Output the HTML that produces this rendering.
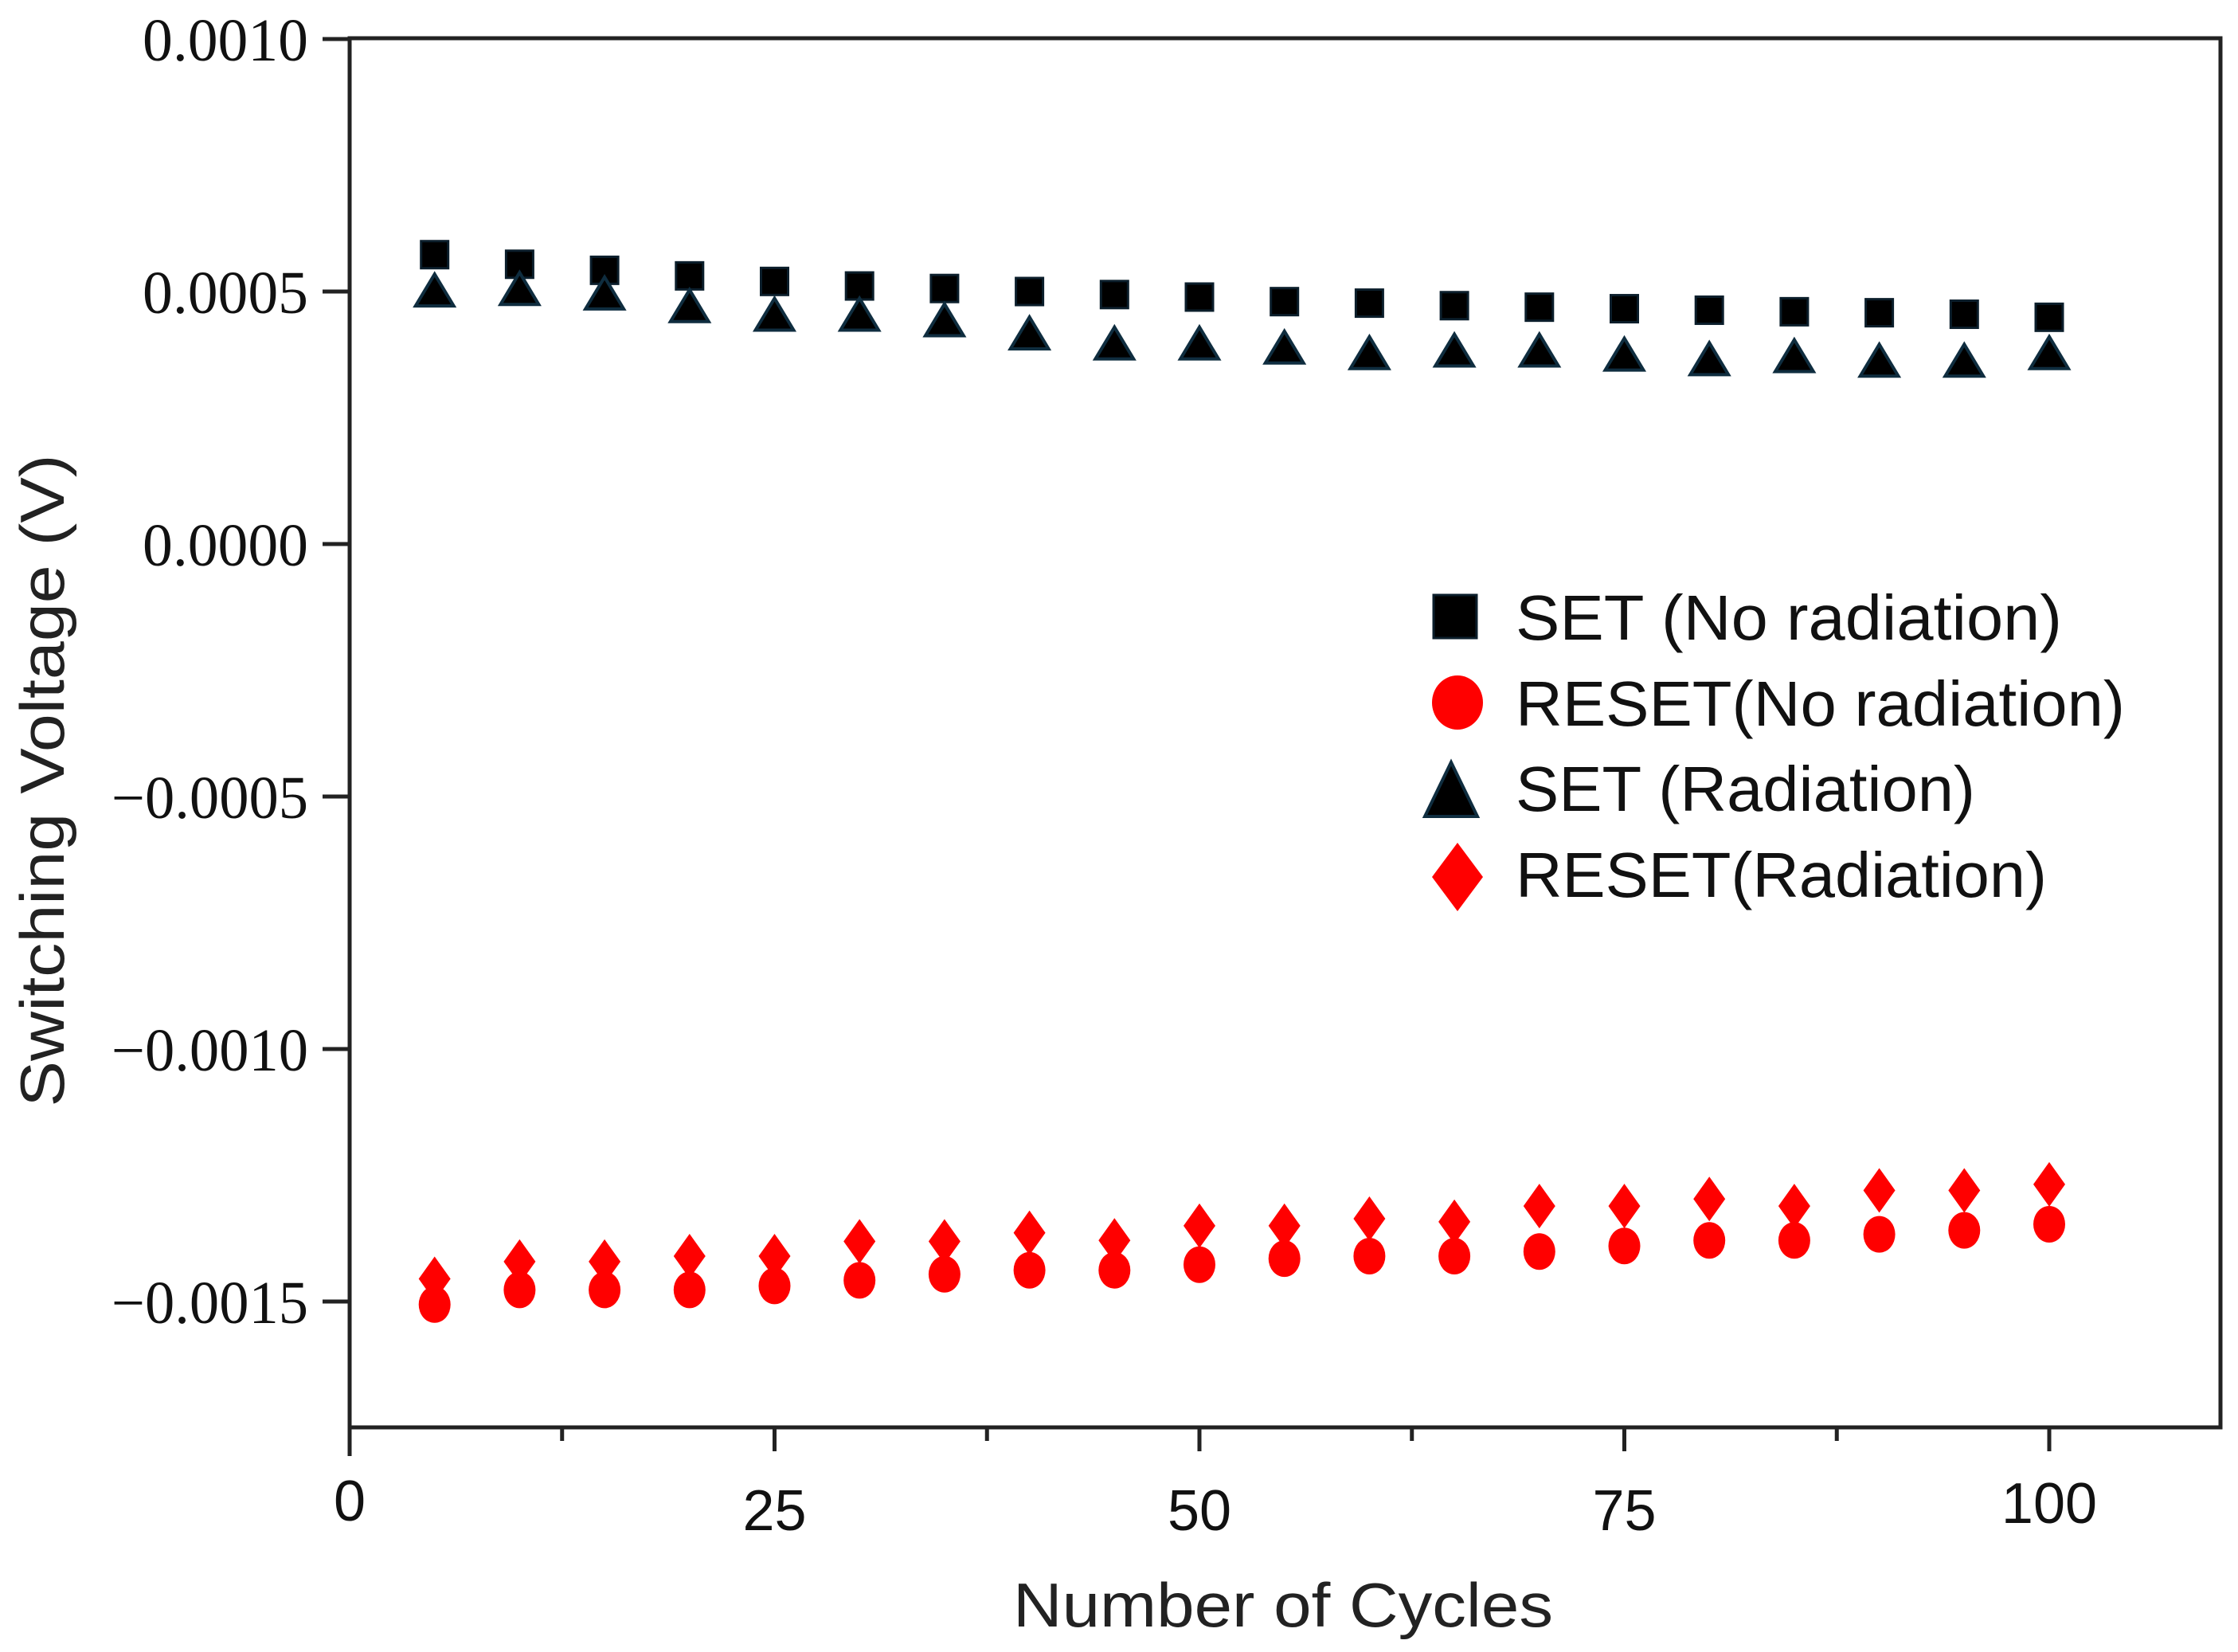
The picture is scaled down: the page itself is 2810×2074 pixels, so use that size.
<!DOCTYPE html>
<html><head><meta charset="utf-8"><style>
html,body{margin:0;padding:0;background:#fff;}
svg{display:block;}
</style></head><body>
<svg id="chart" width="2810" height="2074" viewBox="0 0 2810 2074" xmlns="http://www.w3.org/2000/svg">
<rect x="0" y="0" width="2810" height="2074" fill="#fff"/>
<g id="axes"></g>
<g id="marks"></g>
<g id="legend"></g>
</svg>
<script>
const cycles = [5,10,15,20,25,30,35,40,45,50,55,60,65,70,75,80,85,90,95,100];
const setNoRad = [0.000573,0.000554,0.000542,0.000531,0.000520,0.000511,0.000506,0.000500,0.000494,0.000489,0.000480,0.000477,0.000472,0.000469,0.000466,0.000463,0.000460,0.000458,0.000455,0.000449];
const setRad = [0.000503,0.000506,0.000497,0.000472,0.000455,0.000455,0.000444,0.000418,0.000398,0.000398,0.000390,0.000379,0.000384,0.000384,0.000376,0.000367,0.000373,0.000364,0.000364,0.000379];
const resetNoRad = [-0.001506,-0.001477,-0.001477,-0.001477,-0.001469,-0.001458,-0.001446,-0.001438,-0.001438,-0.001427,-0.001415,-0.001410,-0.001410,-0.001401,-0.001390,-0.001379,-0.001379,-0.001367,-0.001359,-0.001347];
const resetRad = [-0.001455,-0.001421,-0.001421,-0.001410,-0.001410,-0.001381,-0.001381,-0.001364,-0.001379,-0.001350,-0.001350,-0.001336,-0.001342,-0.001311,-0.001311,-0.001297,-0.001311,-0.001280,-0.001280,-0.001268];
const yTickValues = [0.0010,0.0005,0.0000,-0.0005,-0.0010,-0.0015];
const yTickLabels = ["0.0010","0.0005","0.0000","\u22120.0005","\u22120.0010","\u22120.0015"];
const xTickValues = [0,25,50,75,100];
const xTickLabels = ["0","25","50","75","100"];
const xMinorValues = [12.5,37.5,62.5,87.5];

const NS = "http://www.w3.org/2000/svg";
const X0 = 439, XR = 2788, YT = 48, YB = 1792;
function xs(v){ return 439 + v * 21.34; }
function ys(v){ return 683 - v * 634000; }
function mk(tag, attrs, parent){
  const e = document.createElementNS(NS, tag);
  for (const k in attrs) e.setAttribute(k, attrs[k]);
  parent.appendChild(e);
  return e;
}
const axes = document.getElementById('axes');
const marks = document.getElementById('marks');
const legend = document.getElementById('legend');

// frame
let el = mk('path', {d:`M${X0},${YT} H${XR} V${YB} H${X0} Z`, fill:'none', stroke:'#222', 'stroke-width':5}, axes);


el = mk('line', {x1:X0, y1:YB, x2:X0, y2:1828, stroke:'#222', 'stroke-width':5}, axes);



yTickValues.forEach((v,i)=>{
  const y = ys(v);
  let t = mk('line', {x1:405, y1:y, x2:X0, y2:y, stroke:'#222', 'stroke-width':5}, axes);
  
  
  const lab = yTickLabels[i];
  let tx = mk('text', {x:387, y:y+27, 'text-anchor':'end', 'font-family':'"Liberation Serif", serif', 'font-size':76, fill:'#111', textLength: lab.length>6 ? 247 : 208, lengthAdjust:'spacingAndGlyphs'}, axes);
  tx.textContent = lab;
  
  
});
const xLabYOff = [1909,1921,1921,1921,1912];
xTickValues.forEach((v,i)=>{
  const x = xs(v);
  if (v > 0) {
    let t = mk('line', {x1:x, y1:YB, x2:x, y2:YB+30, stroke:'#222', 'stroke-width':5}, axes);
    
    
  }
  let tx = mk('text', {x:x, y:xLabYOff[i], 'text-anchor':'middle', 'font-family':'"Liberation Sans", sans-serif', 'font-size':72, fill:'#111'}, axes);
  tx.textContent = xTickLabels[i];
  
  
});
xMinorValues.forEach(v=>{
  const x = xs(v);
  let t = mk('line', {x1:x, y1:YB, x2:x, y2:YB+17, stroke:'#222', 'stroke-width':5}, axes);
  
  
});
el = mk('text', {x:1611, y:2042, 'text-anchor':'middle', 'font-family':'"Liberation Sans", sans-serif', 'font-size':78, fill:'#222', textLength:678, lengthAdjust:'spacingAndGlyphs'}, axes);
el.textContent = 'Number of Cycles';


el = mk('text', {x:0, y:0, 'text-anchor':'middle', 'font-family':'"Liberation Sans", sans-serif', 'font-size':78, fill:'#222', textLength:819, lengthAdjust:'spacingAndGlyphs', transform:'translate(80,980) rotate(-90)'}, axes);
el.textContent = 'Switching Voltage (V)';



function square(cx, cy, s, parent){ return mk('rect', {x:cx-s/2, y:cy-s/2, width:s, height:s, fill:'#000', stroke:'#0b1e2b', 'stroke-width':3}, parent); }
function circle(cx, cy, rx, ry, parent){ return mk('ellipse', {cx:cx, cy:cy, rx:rx, ry:ry, fill:'#f00'}, parent); }
function tri(cx, cy, w, h, parent){ return mk('polygon', {points:`${cx},${cy-h/2} ${cx+w/2},${cy+h/2} ${cx-w/2},${cy+h/2}`, fill:'#000', stroke:'#0f2d3f', 'stroke-width':4}, parent); }
function diamond(cx, cy, w, h, parent){ return mk('polygon', {points:`${cx},${cy-h/2} ${cx+w/2},${cy} ${cx},${cy+h/2} ${cx-w/2},${cy}`, fill:'#f00'}, parent); }

cycles.forEach((c,i)=>{
  const x = xs(c);
  let m = circle(x, ys(resetNoRad[i]), 20, 23, marks);
  
  
  m = diamond(x, ys(resetRad[i]), 40, 56, marks);
  
  
  m = square(x, ys(setNoRad[i]), 34, marks);
  
  
  m = tri(x, ys(setRad[i]), 48, 40, marks);
  
  
});

// legend
const legRows = [774, 882, 989, 1097];
const legLabels = ['SET (No radiation)','RESET(No radiation)','SET (Radiation)','RESET(Radiation)'];
const legLens = [686, 765, 577, 667];
let lm = square(1827, legRows[0], 54, legend);


lm = circle(1830, legRows[1], 32, 34, legend);


lm = tri(1822, legRows[2]+2, 66, 68, legend);


lm = diamond(1830, legRows[3]+4, 64, 86, legend);


legLabels.forEach((l,i)=>{
  let t = mk('text', {x:1903, y:legRows[i]+29, 'font-family':'"Liberation Sans", sans-serif', 'font-size':80, fill:'#111', textLength:legLens[i], lengthAdjust:'spacingAndGlyphs'}, legend);
  t.textContent = l;
  
  
});
</script>
</body></html>
